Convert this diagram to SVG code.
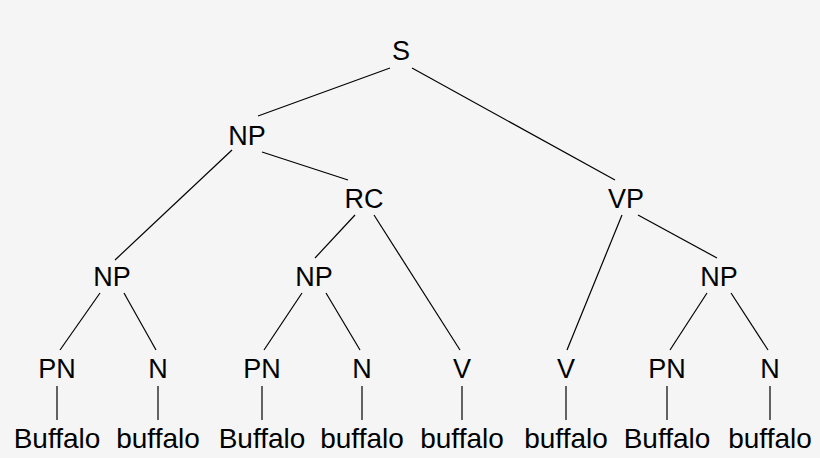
<svg xmlns="http://www.w3.org/2000/svg" width="820" height="458" viewBox="0 0 820 458">
<style>
text{font-family:"Liberation Sans",Arial,sans-serif;font-size:27px;text-anchor:middle;fill:#000}
.w{font-size:28px}
line{stroke:#000;stroke-width:1.2}
</style>
<rect width="820" height="458" fill="#f5f5f5"/>
<g id="connectors">
<line x1="390" y1="68" x2="258" y2="116"/>
<line x1="412" y1="68" x2="615" y2="180"/>
<line x1="232" y1="150" x2="115" y2="260"/>
<line x1="262" y1="152" x2="348" y2="180"/>
<line x1="355" y1="215" x2="315" y2="258"/>
<line x1="374" y1="215" x2="460" y2="350"/>
<line x1="622" y1="215" x2="567" y2="350"/>
<line x1="638" y1="215" x2="717" y2="258"/>
<line x1="100" y1="293" x2="60" y2="350"/>
<line x1="124" y1="293" x2="156" y2="350"/>
<line x1="302" y1="293" x2="264" y2="350"/>
<line x1="326" y1="293" x2="360" y2="350"/>
<line x1="707" y1="293" x2="670" y2="350"/>
<line x1="731" y1="293" x2="768" y2="350"/>
<line x1="57" y1="386" x2="57" y2="420"/>
<line x1="158" y1="386" x2="158" y2="420"/>
<line x1="262" y1="386" x2="262" y2="420"/>
<line x1="362" y1="386" x2="362" y2="420"/>
<line x1="462" y1="386" x2="462" y2="420"/>
<line x1="566" y1="386" x2="566" y2="420"/>
<line x1="667" y1="386" x2="667" y2="420"/>
<line x1="770" y1="386" x2="770" y2="420"/>
</g>
<g id="S"><text x="401" y="60">S</text></g>
<g id="NP1"><text x="247" y="145">NP</text></g>
<g id="RC"><text x="364" y="208">RC</text></g>
<g id="VP"><text x="626" y="208">VP</text></g>
<g id="NP2"><text x="112" y="286">NP</text></g>
<g id="NP3"><text x="314" y="286">NP</text></g>
<g id="NP4"><text x="719" y="286">NP</text></g>
<g id="PN1"><text x="57" y="378">PN</text></g>
<g id="N1"><text x="158" y="378">N</text></g>
<g id="PN2"><text x="262" y="378">PN</text></g>
<g id="N2"><text x="362" y="378">N</text></g>
<g id="V1"><text x="462" y="378">V</text></g>
<g id="V2"><text x="566" y="378">V</text></g>
<g id="PN3"><text x="667" y="378">PN</text></g>
<g id="N3"><text x="770" y="378">N</text></g>
<g id="w1"><text class="w" x="57" y="448">Buffalo</text></g>
<g id="w2"><text class="w" x="158" y="448">buffalo</text></g>
<g id="w3"><text class="w" x="262" y="448">Buffalo</text></g>
<g id="w4"><text class="w" x="362" y="448">buffalo</text></g>
<g id="w5"><text class="w" x="462" y="448">buffalo</text></g>
<g id="w6"><text class="w" x="566" y="448">buffalo</text></g>
<g id="w7"><text class="w" x="667" y="448">Buffalo</text></g>
<g id="w8"><text class="w" x="770" y="448">buffalo</text></g>
</svg>
